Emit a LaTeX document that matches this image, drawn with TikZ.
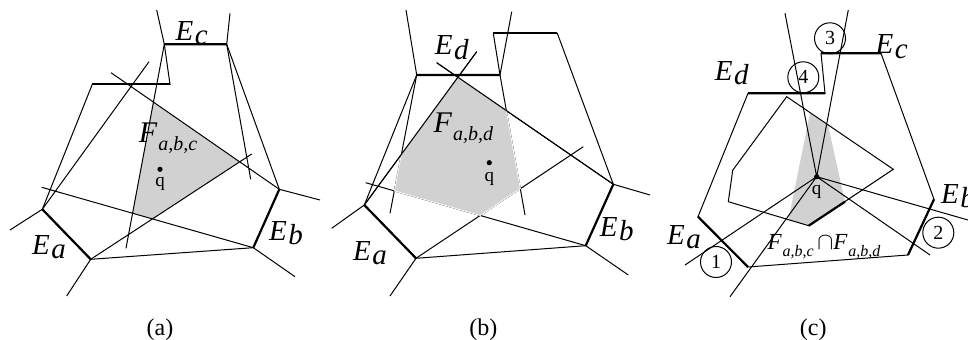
\documentclass[tikz,border=0pt]{standalone}
\usepackage{fontspec}
\setmainfont{Liberation Serif}
\usetikzlibrary{calc}

\newcommand{\elbl}[2]{\textit{#1}\kern0.05em\raisebox{-0.35ex}{\textit{#2}}}
\newcommand{\flbl}[3][10]{\textit{#2}\kern0.03em\raisebox{-0.6ex}{\fontsize{#1}{#1}\selectfont\textit{#3}}}

\begin{document}
\begin{tikzpicture}[x=0.5pt, y=-0.5pt, line width=0.5pt,
  edge/.style={line width=1.1pt},
  midedge/.style={line width=0.8pt},
  face/.style={fill=black!18},
  lbl/.style={font=\fontsize{14.5}{16}\selectfont, inner sep=0pt},
  flab/.style={font=\fontsize{15}{16}\selectfont, inner sep=0pt},
  num/.style={draw, circle, minimum size=15.5pt, inner sep=0pt, font=\fontsize{10}{10}\selectfont},
  panel/.style={font=\fontsize{12}{12}\selectfont, inner sep=0pt},
  qlbl/.style={font=\fontsize{9.5}{10}\selectfont, inner sep=0pt}]
  \useasboundingbox (0,0) rectangle (968,340);

  % ---------------- (a) ----------------
  \coordinate (aA1) at (42.3,209.3);  \coordinate (aA2) at (90.7,259.3);
  \coordinate (aB1) at (253.3,247.7); \coordinate (aB2) at (279.3,189.3);
  \coordinate (aC2) at (226.7,44.3);  \coordinate (aC1) at (164.3,44.3);
  \coordinate (aD2) at (170,84.3);    \coordinate (aD1) at (92.3,84.3);
  \coordinate (aL1) at (149,61.7);    \coordinate (aL2) at (251.7,154);
  \coordinate (aL3) at (41.7,187.3);  \coordinate (aL4) at (111,72.7);
  \coordinate (aL5) at (126,248.3);   \coordinate (aL6) at (250.7,179.3);
  \fill[face] (intersection of aC1--aL5 and aL4--aB2)
        -- (intersection of aL4--aB2 and aA2--aL2)
        -- (intersection of aA2--aL2 and aL3--aB1)
        -- (intersection of aL3--aB1 and aC1--aL5) -- cycle;
  \draw (aA1) -- (aA2) -- (aB1) -- (aB2) -- (aC2) -- (aC1) -- (aD2) -- (aD1) -- cycle;
  \draw[edge] (aA1) -- (aA2) (aB1) -- (aB2) (aC1) -- (aC2);
  \draw[midedge] (aD1) -- (aD2);
  \draw (aA1) -- (10,230) (aA2) -- (66.7,296) (aB1) -- (295,276.7)
        (aB2) -- (320,200) (aC1) -- (156.7,10) (aC2) -- (230,13.3);
  \draw (aA1) -- (aL1) (aA2) -- (aL2) (aL3) -- (aB1) (aL4) -- (aB2)
        (aC1) -- (aL5) (aC2) -- (aL6);
  \node[lbl] (aEc) at (191.7,33.3) {\elbl{E}{c}};
  \node[lbl] (aEb) at (286,233) {\elbl{E}{b}};
  \node[lbl] (aEa) at (49,247) {\elbl{E}{a}};
  \node[flab] (aF) at (168,138) {\flbl{F}{a,b,c}};
  \coordinate (aq) at (160,169.3);
  \fill (aq) circle (1.3pt);
  \node[qlbl] (aql) at (160,184) {q};
  \node[panel] (pa) at (160,330) {(a)};

  % ---------------- (b) ----------------
  \coordinate (bA1) at (364.3,205);   \coordinate (bA2) at (416,258.3);
  \coordinate (bB1) at (585.7,245.7); \coordinate (bB2) at (613.3,184.3);
  \coordinate (bC2) at (557.3,33.3);  \coordinate (bC1) at (493.3,33.3);
  \coordinate (bD2) at (500,75);      \coordinate (bD1) at (416.7,75);
  \coordinate (bM1) at (476.7,51.7);  \coordinate (bM2) at (583.3,146.7);
  \coordinate (bM3) at (365.7,182.7); \coordinate (bM4) at (436.7,62.7);
  \coordinate (bM5) at (390,213.3);   \coordinate (bM6) at (525,215);
  \draw (bA1) -- (bA2) -- (bB1) -- (bB2) -- (bC2) -- (bC1) -- (bD2) -- (bD1) -- cycle;
  \draw[edge] (bA1) -- (bA2) (bB1) -- (bB2) (bD1) -- (bD2);
  \draw[midedge] (bC1) -- (bC2);
  \draw (bA1) -- (331.7,228.3) (bA2) -- (390,296) (bB1) -- (628.3,275)
        (bB2) -- (650,195) (bD1) -- (406,10) (bD2) -- (511.7,11.7);
  \draw (bA1) -- (bM1) (bA2) -- (bM2) (bM3) -- (bB1) (bM4) -- (bB2)
        (bD1) -- (bM5) (bD2) -- (bM6);
  \filldraw[face, draw=white, line width=0.4pt]
        (intersection of bA1--bM1 and bM4--bB2)
        -- (intersection of bM4--bB2 and bD2--bM6)
        -- (intersection of bD2--bM6 and bA2--bM2)
        -- (intersection of bA2--bM2 and bM3--bB1)
        -- (intersection of bM3--bB1 and bD1--bM5)
        -- (intersection of bD1--bM5 and bA1--bM1) -- cycle;
  \draw (bA1) -- (bM1) (bM4) -- (bB2); % bordes de arriba otra vez
  \node[lbl] (bEd) at (451.7,47.5) {\elbl{E}{d}};
  \node[lbl] (bEb) at (616.7,229) {\elbl{E}{b}};
  \node[lbl] (bEa) at (370,253) {\elbl{E}{a}};
  \node[flab] (bF) at (463.3,128) {\flbl{F}{a,b,d}};
  \coordinate (bq) at (489.3,162.7);
  \fill (bq) circle (1.3pt);
  \node[qlbl] (bql) at (489.3,179) {q};
  \node[panel] (pb) at (483.3,330) {(b)};

  % ---------------- (c) ----------------
  \coordinate (cA1) at (698,216.7);   \coordinate (cA2) at (748,267);
  \coordinate (cB1) at (908,255);     \coordinate (cB2) at (934,199.3);
  \coordinate (cC2) at (881,53.3);    \coordinate (cC1) at (821,53.3);
  \coordinate (cD2) at (825,93.3);    \coordinate (cD1) at (748,93.3);
  \coordinate (cP1) at (786.7,96.7);  \coordinate (cP2) at (893.3,169.3);
  \coordinate (cP3) at (808.7,225.7); \coordinate (cP4) at (728.3,201.7);
  \coordinate (cP5) at (732.7,170.3);
  \coordinate (cS1) at (810,113);     \coordinate (cS2) at (828,125);
  \coordinate (cS3) at (845,201.7);   \coordinate (cS5) at (788.3,220.3);
  \coordinate (cq) at (816.7,176.7);
  \fill[face] (cS1) -- (cS2) -- (cS3) -- (cP3) -- (cS5) -- cycle;
  \draw (cP1) -- (cP2) -- (cP3) -- (cP4) -- (cP5) -- cycle;
  \draw[edge] (cS3) -- (cP3);
  \draw (cA1) -- (cA2) -- (cB1) -- (cB2) -- (cC2) -- (cC1) -- (cD2) -- (cD1) -- cycle;
  \draw[edge] (cA1) -- (cA2) (cB1) -- (cB2) (cC1) -- (cC2) (cD1) -- (cD2);
  \draw (cq) -- (785,13.3) (cq) -- (848.3,10) (cq) -- (685,265)
        (cq) -- (730,296.7) (cq) -- (930,255) (cq) -- (968,220);
  \fill (cq) circle (1.3pt);
  \node[num] (n1) at (716,262) {1};
  \node[num] (n2) at (938.3,232.7) {2};
  \node[num] (n3) at (830,38.3) {3};
  \node[num] (n4) at (803.3,77.3) {4};
  \node[lbl] (cEd) at (731.7,73.3) {\elbl{E}{d}};
  \node[lbl] (cEc) at (891.7,46.7) {\elbl{E}{c}};
  \node[lbl] (cEb) at (958,196) {\elbl{E}{b}};
  \node[lbl] (cEa) at (684,237) {\elbl{E}{a}};
  \node[qlbl] (cql) at (816.7,192) {q};
  \node[font=\fontsize{11.5}{12}\selectfont, inner sep=0pt] (cF) at (824,246.7)
        {\flbl[8]{F}{a,b,c}\,$\cap$\flbl[8]{F}{a,b,d}};
  \node[panel] (pc) at (813.3,330) {(c)};
\end{tikzpicture}
\end{document}
